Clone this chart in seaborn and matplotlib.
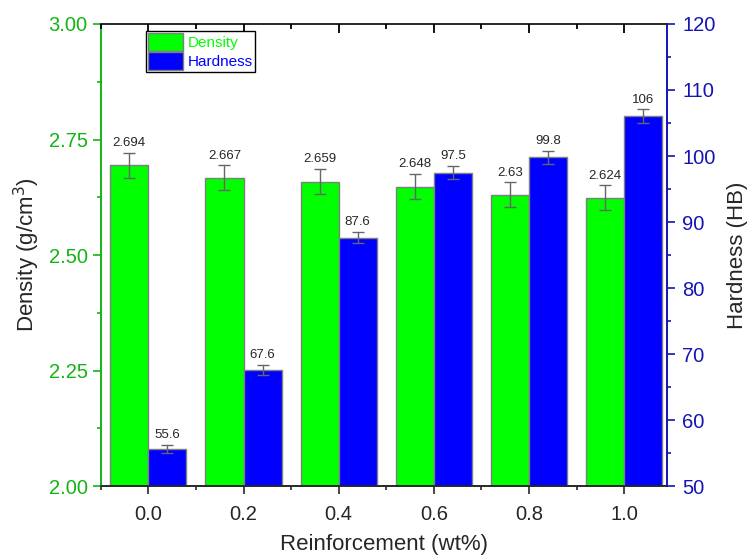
import numpy as np
import pandas as pd
import matplotlib
matplotlib.use("Agg")
import matplotlib.pyplot as plt
import seaborn as sns
from matplotlib.patches import Patch
from matplotlib.ticker import MultipleLocator

# --- data ---
reinforcement = [0.0, 0.2, 0.4, 0.6, 0.8, 1.0]
density = [2.694, 2.667, 2.659, 2.648, 2.63, 2.624]
density_err = [0.027, 0.027, 0.027, 0.027, 0.027, 0.027]
hardness = [55.6, 67.6, 87.6, 97.5, 99.8, 106]
hardness_err = [0.65, 0.8, 0.85, 0.95, 1.0, 1.05]
density_labels = ["2.694", "2.667", "2.659", "2.648", "2.63", "2.624"]
hardness_labels = ["55.6", "67.6", "87.6", "97.5", "99.8", "106"]

GREEN = "#00FF00"
BLUE = "#0000FF"
GREEN_AX = "#14B414"
BLUE_AX = "#1414B4"

sns.set_style("ticks")
plt.rcParams["font.family"] = ["Liberation Sans", "DejaVu Sans"]

x = np.array(reinforcement)
df_d = pd.DataFrame({"x": np.round(x - 0.04, 4), "y": density})
df_h = pd.DataFrame({"x": np.round(x + 0.04, 4), "y": hardness})

fig = plt.figure(figsize=(7.52, 5.58), dpi=100)
ax = fig.add_axes([0.134, 0.129, 0.753, 0.828])
ax2 = ax.twinx()

sns.barplot(data=df_d, x="x", y="y", ax=ax, native_scale=True, width=0.4,
            color=GREEN, saturation=1, edgecolor="#7F7F7F", linewidth=1.0,
            errorbar=None)
sns.barplot(data=df_h, x="x", y="y", ax=ax2, native_scale=True, width=0.4,
            color=BLUE, saturation=1, edgecolor="#7F7F7F", linewidth=1.0,
            errorbar=None)

ax.errorbar(df_d["x"], density, yerr=density_err, fmt="none", ecolor="#666666",
            elinewidth=1, capsize=4, capthick=1)
ax2.errorbar(df_h["x"], hardness, yerr=hardness_err, fmt="none", ecolor="#666666",
             elinewidth=1, capsize=4, capthick=1)

for xi, v, e, lab in zip(df_d["x"], density, density_err, density_labels):
    ax.text(xi, v + e + 0.008, lab, ha="center", va="bottom", fontsize=9.5)
for xi, v, e, lab in zip(df_h["x"], hardness, hardness_err, hardness_labels):
    ax2.text(xi, v + e + 0.6, lab, ha="center", va="bottom", fontsize=9.5)

ax.set_xlim(-0.1, 1.09)
ax.set_ylim(2.0, 3.0)
ax2.set_ylim(50, 120)
ax.set_xticks(reinforcement)
ax.set_xticklabels([f"{v:.1f}" for v in reinforcement])
ax.xaxis.set_minor_locator(MultipleLocator(0.1))
ax.yaxis.set_major_locator(MultipleLocator(0.25))
ax.yaxis.set_minor_locator(MultipleLocator(0.125))
ax2.yaxis.set_major_locator(MultipleLocator(10))
ax2.yaxis.set_minor_locator(MultipleLocator(5))
ax.yaxis.set_major_formatter(matplotlib.ticker.FormatStrFormatter("%.2f"))

ax.set_xlabel("Reinforcement (wt%)", fontsize=16, labelpad=7)
ax.set_ylabel("Density (g/cm$^3$)", fontsize=16, labelpad=5)
ax2.set_ylabel("Hardness (HB)", fontsize=16, labelpad=8)

# bottom ticks out
ax.tick_params(axis="x", which="major", direction="out", length=6, width=1.2,
               labelsize=14.5, top=False, pad=8)
ax.tick_params(axis="x", which="minor", direction="out", length=3, width=1.2, top=False)

ax.tick_params(axis="y", which="major", length=6, width=1.2, colors=GREEN_AX,
               labelsize=14.5)
ax.tick_params(axis="y", which="minor", length=3, width=1.2, colors=GREEN_AX)
ax2.tick_params(axis="y", which="major", length=6, width=1.2, colors=BLUE_AX,
                labelsize=14.5, pad=5)
ax2.tick_params(axis="y", which="minor", length=3, width=1.2, colors=BLUE_AX)

for a in (ax, ax2):
    for s in a.spines.values():
        s.set_visible(True)
        s.set_linewidth(1.2)
ax.spines["left"].set_color(GREEN_AX)
ax2.spines["left"].set_color(GREEN_AX)
ax2.spines["right"].set_color(BLUE_AX)
ax.spines["right"].set_color(BLUE_AX)

# top ticks pointing inward, drawn at the x tick positions
minor_pos = [v for v in ax.xaxis.get_minorticklocs() if -0.1 <= v <= 1.09]
xt = ax.get_xaxis_transform()
ax2.vlines(minor_pos, 1 - 0.011, 1, transform=xt, color="black", lw=1.3,
           clip_on=False, zorder=6)
ax2.vlines(reinforcement, 1 - 0.02, 1, transform=xt, color="black", lw=1.3,
           clip_on=False, zorder=6)

handles = [Patch(facecolor=GREEN, edgecolor="#7F7F7F"),
           Patch(facecolor=BLUE, edgecolor="#7F7F7F")]
leg = ax2.legend(handles, ["Density", "Hardness"], loc="upper left",
                 bbox_to_anchor=(0.08, 0.985), fontsize=11, frameon=True,
                 fancybox=False, edgecolor="black", framealpha=1,
                 handlelength=2.3, handleheight=1.4, handletextpad=0.3,
                 borderpad=0.15, labelspacing=0.1, borderaxespad=0)
leg.set_zorder(10)
leg.get_frame().set_linewidth(1)
for t, c in zip(leg.get_texts(), [GREEN, BLUE]):
    t.set_color(c)

fig.savefig("out.png", dpi=100)
